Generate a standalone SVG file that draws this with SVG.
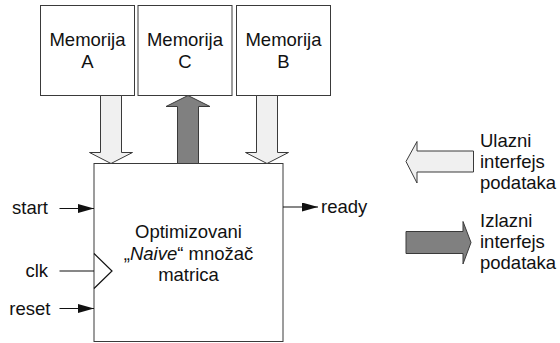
<svg xmlns="http://www.w3.org/2000/svg" width="560" height="343" viewBox="0 0 560 343">
  <style>
    .box { fill: #ffffff; stroke: #3a3a3a; stroke-width: 1; }
    .lbl { font-family: "Liberation Sans", Arial, sans-serif; font-size: 18.5px; fill: #111111; }
    .mid { text-anchor: middle; }
    .end { text-anchor: end; }
    .bus-in { fill: #f0f0f0; stroke: #3a3a3a; stroke-width: 1; stroke-linejoin: miter; }
    .bus-out { fill: #808080; stroke: #3a3a3a; stroke-width: 1; stroke-linejoin: miter; }
    .wire { fill: none; stroke: #111111; stroke-width: 1.2; }
  </style>
  <defs>
    <marker id="head" viewBox="0 0 16 9" refX="16" refY="4.5" markerWidth="16" markerHeight="9" markerUnits="userSpaceOnUse" orient="auto">
      <path d="M0,0 L16,4.5 L0,9 Z" fill="#111111"/>
    </marker>
  </defs>

  <rect width="560" height="343" fill="#ffffff"/>

  <!-- memory blocks -->
  <g id="memA">
    <rect class="box" x="40.5" y="5.5" width="94" height="90"/>
    <text class="lbl mid" x="87.5" y="46">Memorija</text>
    <text class="lbl mid" x="87.5" y="67.5">A</text>
  </g>
  <g id="memC">
    <rect class="box" x="138" y="5.5" width="94" height="90"/>
    <text class="lbl mid" x="185" y="46">Memorija</text>
    <text class="lbl mid" x="185" y="67.5">C</text>
  </g>
  <g id="memB">
    <rect class="box" x="236.5" y="5.5" width="94" height="90"/>
    <text class="lbl mid" x="283.5" y="46">Memorija</text>
    <text class="lbl mid" x="283.5" y="67.5">B</text>
  </g>

  <!-- multiplier core -->
  <g id="core">
    <rect class="box" x="94" y="163.5" width="189" height="178"/>
    <polyline class="wire" points="94,253.5 112,271 94,288.5"/>
    <text class="lbl mid" x="188.5" y="238">Optimizovani</text>
    <text class="lbl mid" x="188.5" y="259.5">„<tspan font-style="italic">Naive</tspan>“ množač</text>
    <text class="lbl mid" x="188.5" y="281">matrica</text>
  </g>

  <!-- data buses and control signals -->
  <g id="connectors">
    <polygon class="bus-in" points="100.5,95.5 121.5,95.5 121.5,152.5 132.5,152.5 111,163.5 89.5,152.5 100.5,152.5"/>
    <polygon class="bus-out" points="177.5,163.5 198.5,163.5 198.5,106.5 210,106.5 188,95.5 166,106.5 177.5,106.5"/>
    <polygon class="bus-in" points="256.5,95.5 277.5,95.5 277.5,152.5 288.5,152.5 267,163.5 245.5,152.5 256.5,152.5"/>

    <line class="wire" x1="59.5" y1="208.5" x2="94" y2="208.5" marker-end="url(#head)"/>
    <line class="wire" x1="59.5" y1="271" x2="94" y2="271"/>
    <line class="wire" x1="59.5" y1="308.5" x2="94" y2="308.5" marker-end="url(#head)"/>
    <line class="wire" x1="283" y1="207" x2="318" y2="207" marker-end="url(#head)"/>

    <text class="lbl end" x="48" y="213.5">start</text>
    <text class="lbl end" x="48" y="277">clk</text>
    <text class="lbl end" x="50.5" y="314.5">reset</text>
    <text class="lbl" x="321" y="213">ready</text>
  </g>

  <!-- key -->
  <g id="key-in">
    <polygon class="bus-in" points="473.5,151 473.5,172 417,172 417,183 406,161.5 417,141.5 417,151"/>
    <text class="lbl" x="480" y="146.5">Ulazni</text>
    <text class="lbl" x="480" y="167.5">interfejs</text>
    <text class="lbl" x="480" y="188.5">podataka</text>
  </g>
  <g id="key-out">
    <polygon class="bus-out" points="406,231.5 463,231.5 463,221.5 471,242.5 463,264 463,253.5 406,253.5"/>
    <text class="lbl" x="480" y="226.5">Izlazni</text>
    <text class="lbl" x="480" y="247.5">interfejs</text>
    <text class="lbl" x="480" y="268.5">podataka</text>
  </g>
</svg>
